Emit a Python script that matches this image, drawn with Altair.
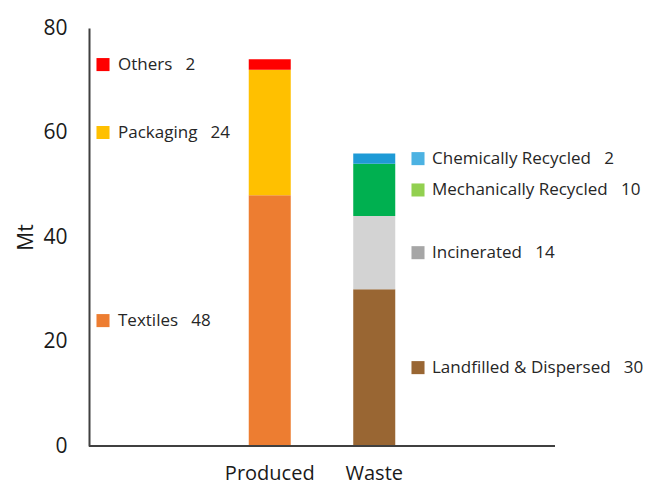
import altair as alt
import pandas as pd

stages = ["Produced", "Produced", "Produced", "Waste", "Waste", "Waste", "Waste"]
categories = ["Textiles", "Packaging", "Others",
              "Landfilled & Dispersed", "Incinerated", "Mechanically Recycled", "Chemically Recycled"]
values = [48, 24, 2, 30, 14, 10, 2]
bar_colors = ["#ED7D31", "#FFC000", "#FF0000", "#996633", "#D3D3D3", "#00B050", "#1E9AD6"]
key_colors = ["#ED7D31", "#FFC000", "#FF0000", "#996633", "#A6A6A6", "#92D050", "#4CB2E2"]

df = pd.DataFrame({"stage": stages, "category": categories, "value": values,
                   "order": [0, 1, 2, 0, 1, 2, 3], "key": key_colors})
df["top"] = df.groupby("stage")["value"].cumsum()
df["mid"] = df["top"] - df["value"] / 2
df["label"] = df["category"] + "\u00a0\u00a0\u00a0" + df["value"].astype(str)

FONT = "Open Sans"
TXT = "#1a1a1a"

bars = alt.Chart(df).mark_bar(strokeWidth=0).encode(
    x=alt.X("stage:N", sort=["Produced", "Waste"],
            scale=alt.Scale(paddingInner=0.598, paddingOuter=1, range=[55.25, 410.75]),
            axis=alt.Axis(title=None, labelAngle=0, labelFontSize=20, labelFont=FONT,
                          labelColor=TXT, labelPadding=17, ticks=False, domain=False)),
    y=alt.Y("value:Q", stack="zero",
            scale=alt.Scale(domain=[0, 80], nice=False),
            axis=alt.Axis(title="Mt", values=[0, 20, 40, 60, 80], grid=False, ticks=False,
                          labelFontSize=21, labelFont=FONT, labelColor=TXT,
                          labelPadding=22, titleFontSize=21, titleFont=FONT,
                          titleFontWeight="normal", titleColor=TXT, titlePadding=6,
                          domainColor="#404040", domainWidth=2)),
    color=alt.Color("category:N", scale=alt.Scale(domain=categories, range=bar_colors), legend=None),
    order=alt.Order("order:Q"),
)

baseline = alt.Chart(pd.DataFrame({"v": [0]})).mark_rule(color="#404040", strokeWidth=2).encode(
    y=alt.Y("v:Q"), x=alt.value(0), x2=alt.value(466),
)

left = df[df["stage"] == "Produced"]
right = df[df["stage"] == "Waste"]

def keys(data, xs, xt):
    sq = alt.Chart(data).mark_square(size=170, opacity=1, filled=True).encode(
        x=alt.value(xs), y=alt.Y("mid:Q"),
        fill=alt.Fill("key:N", scale=None),
    )
    tx = alt.Chart(data).mark_text(align="left", baseline="middle", fontSize=17,
                                   font=FONT, color="#262626").encode(
        x=alt.value(xt), y=alt.Y("mid:Q"), text="label:N",
    )
    return sq + tx

chart = alt.layer(bars, baseline, keys(left, 14, 29), keys(right, 329, 343)).properties(
    width=466, height=418,
    autosize=alt.AutoSizeParams(type="none"),
    padding={"left": 89, "top": 28, "right": 97, "bottom": 41},
).configure_view(stroke=None)

chart.save("out.html", embed_options={"renderer": "svg", "actions": False})
